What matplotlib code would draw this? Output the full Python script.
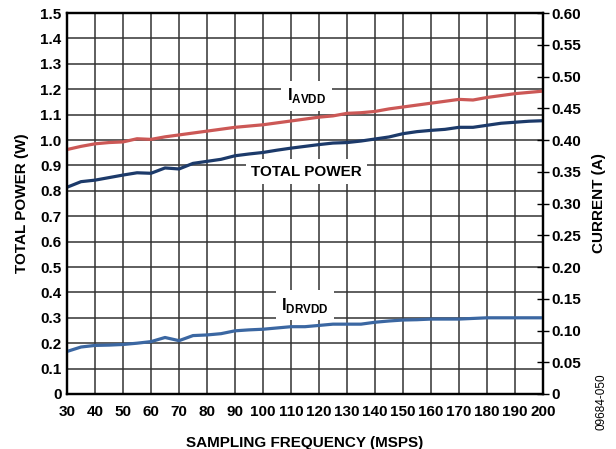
import numpy as np
import matplotlib
matplotlib.use("Agg")
import matplotlib.pyplot as plt

plt.rcParams['font.family'] = ['Liberation Sans', 'DejaVu Sans']
plt.rcParams['font.weight'] = 'bold'
plt.rcParams['axes.labelweight'] = 'bold'
plt.rcParams['mathtext.fontset'] = 'custom'
plt.rcParams['mathtext.rm'] = 'Liberation Sans:bold'
plt.rcParams['mathtext.bf'] = 'Liberation Sans:bold'

# sampling frequency (MSPS)
freq = list(range(30, 205, 5))

# total power (W), left axis
total_power = [0.814, 0.836, 0.842, 0.852, 0.862, 0.871, 0.869, 0.890, 0.886, 0.908,
               0.916, 0.924, 0.938, 0.945, 0.951, 0.960, 0.968, 0.975, 0.982, 0.988,
               0.990, 0.996, 1.004, 1.012, 1.025, 1.033, 1.038, 1.042, 1.050, 1.050,
               1.058, 1.066, 1.070, 1.074, 1.076]

# IAVDD current (A), right axis
i_avdd = [0.385, 0.390, 0.394, 0.396, 0.397, 0.402, 0.401, 0.405, 0.408, 0.411,
          0.414, 0.417, 0.420, 0.422, 0.424, 0.427, 0.430, 0.433, 0.436, 0.438,
          0.442, 0.443, 0.445, 0.449, 0.452, 0.455, 0.458, 0.461, 0.464, 0.463,
          0.467, 0.470, 0.473, 0.475, 0.477]

# IDRVDD current (A), right axis
i_drvdd = [0.067, 0.074, 0.0765, 0.077, 0.078, 0.080, 0.0825, 0.089, 0.084, 0.092,
           0.093, 0.095, 0.0995, 0.101, 0.102, 0.104, 0.106, 0.106, 0.108, 0.110,
           0.110, 0.110, 0.113, 0.115, 0.1165, 0.117, 0.118, 0.118, 0.118, 0.119,
           0.120, 0.120, 0.120, 0.120, 0.120]

x_ticks = list(range(30, 210, 10))
power_ticks = [round(0.1 * i, 1) for i in range(16)]
current_ticks = [round(0.05 * i, 2) for i in range(13)]

fig = plt.figure(figsize=(6.16, 4.49), dpi=100)
ax = fig.add_axes([0.1088, 0.1225, 0.8815 - 0.1088, 0.971 - 0.1225])
ax2 = ax.twinx()

ax.set_xlim(30, 200)
ax.set_ylim(0, 1.5)
ax2.set_ylim(0, 0.6)

ax.set_xticks(x_ticks)
ax.set_yticks(power_ticks)
ax.set_yticklabels(['0'] + ['%.1f' % v for v in power_ticks[1:]])
ax2.set_yticks(current_ticks)
ax2.set_yticklabels(['0'] + ['%.2f' % v for v in current_ticks[1:]])

ax.grid(True, color='#333333', linewidth=1.1)
ax.set_axisbelow(True)
ax.tick_params(axis='y', length=0, labelsize=11, pad=4)
ax.tick_params(axis='x', length=0, labelsize=11, pad=8)
ax2.tick_params(axis='y', direction='inout', length=8, width=1, labelsize=11, pad=2)

for a in (ax, ax2):
    for s in a.spines.values():
        s.set_linewidth(1.6)
        s.set_color('black')

ax2.plot(freq, i_avdd, color='#CC5856', linewidth=2.3, solid_capstyle='butt')
ax.plot(freq, total_power, color='#1C3A6A', linewidth=2.3, solid_capstyle='butt')
ax2.plot(freq, i_drvdd, color='#3B67A2', linewidth=2.3, solid_capstyle='butt')

box = dict(facecolor='white', edgecolor='none', pad=4)
ax.text(115.5, 1.175, r'I$_{\mathrm{AVDD}}$', fontsize=12, ha='center', va='center', bbox=box, zorder=5)
ax.text(115.5, 0.875, 'TOTAL POWER', fontsize=11, ha='center', va='center', bbox=box, zorder=5)
ax.text(115.0, 0.35, r'I$_{\mathrm{DRVDD}}$', fontsize=12, ha='center', va='center', bbox=box, zorder=5)

ax.set_xlabel('SAMPLING FREQUENCY (MSPS)', fontsize=11, labelpad=12)
ax.set_ylabel('TOTAL POWER (W)', fontsize=11, labelpad=8)
ax2.set_ylabel('CURRENT (A)', fontsize=11, labelpad=8)

fig.text(0.977, 0.105, '09684-050', fontsize=8.5, fontweight='normal', rotation=90,
         ha='center', va='center')

plt.savefig('out.png', dpi=100)
